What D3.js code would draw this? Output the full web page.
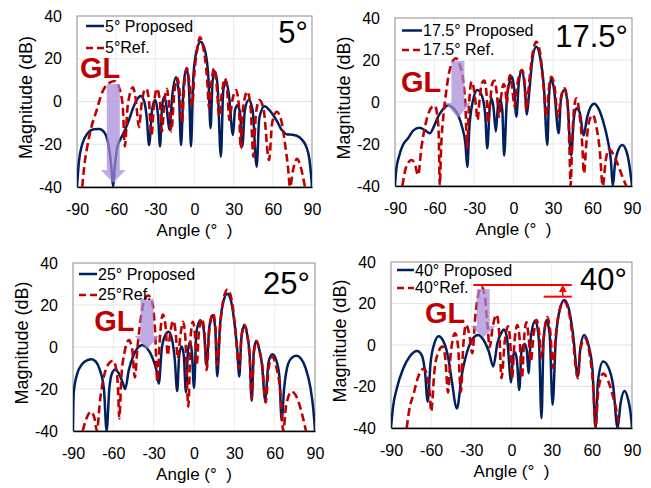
<!DOCTYPE html>
<html><head><meta charset="utf-8">
<script src="https://cdn.jsdelivr.net/npm/d3@7"></script>
<style>
html,body{margin:0;padding:0;background:#fff;}
svg{display:block;font-family:"Liberation Sans",Arial,sans-serif;}
</style></head><body>
<svg id="chart" width="651" height="488"></svg>
<script>
// ---- axis ticks and labels ----
const xTicks = [-90, -60, -30, 0, 30, 60, 90];
const yTicks = [-40, -20, 0, 20, 40];
const xGrid = [-60, -30, 0, 30, 60];
const yGrid = [-20, 0, 20];
const steerLabels = ["5°", "17.5°", "25°", "40°"];
const propLabels = ["5° Proposed", "17.5° Proposed", "25° Proposed", "40° Proposed"];
const refLabels = ["5°Ref.", "17.5° Ref.", "25°Ref.", "40°Ref."];
const xTitle = "Angle (°  )";
const yTitle = "Magnitude (dB)";
const glLabel = "GL";

// ---- radiation patterns: [angle (deg), magnitude (dB)] ----
const prop5 = [[-90,-40],[-88.5,-28],[-86,-20],[-82,-15],[-77,-13],[-73,-12.9],[-69,-14.5],[-66,-20],[-63.8,-30],[-62.3,-40],[-61,-30],[-59,-21],[-57,-18],[-54.5,-15],[-51,-10],[-47,-3],[-44,1],[-41.2,2.6],[-38.5,0],[-36.5,-8],[-34.8,-20.4],[-32.5,-4],[-30.2,0.7],[-28,-6],[-26.4,-21],[-24.8,-2],[-23.1,2.3],[-21.5,-2],[-19.3,-13.3],[-17,3],[-14.2,11.3],[-12,4],[-10.3,-20.4],[-8.3,8],[-6,15.5],[-4.2,6],[-2.7,-21],[-0.9,11.6],[1.7,24],[4.6,28],[8,24],[10.6,11.6],[12.3,-12.5],[13.8,9],[15.5,14.2],[17.6,8],[20.2,-25.8],[22,5],[24,10],[26.2,4],[29.5,-15.7],[31,-4],[33,-1.8],[35,-6],[36.6,-21],[38.6,-4],[41.5,0.7],[44.5,-4],[47.6,-30.5],[49.6,-8],[53.5,-2.2],[58,-4.5],[63,-9],[67,-13.5],[70.5,-15.3],[75,-15.6],[79,-16.2],[82.5,-18],[85.5,-21],[88,-27],[89.5,-36],[90,-40]];
const ref5 = [[-86,-40],[-84,-28],[-82.6,-22.7],[-79,-12],[-74.9,-4],[-71,3.8],[-67.3,7.7],[-61,9.6],[-57.5,6],[-55,-2],[-53.3,-21],[-51.5,-4],[-49.5,3.5],[-47.2,6.6],[-45,1],[-42.5,-12],[-40.5,-1],[-38.5,5],[-37,6],[-35,1],[-33,-16],[-31,-1],[-28.8,6],[-26.5,0],[-25,-14],[-23,0],[-21.2,6],[-19.5,-1],[-17.8,-14],[-15.6,3],[-13.2,11],[-11.3,4],[-9.6,-10],[-7.8,8],[-5.8,15.5],[-3.8,8],[-1.8,-2],[0,14],[2,24],[4.2,30],[6.8,25],[9.5,12],[11.2,-3],[13,9],[15,15.5],[16.9,8],[19,-7],[21,4],[23.4,10.8],[25.2,4],[26.7,-8.7],[28.8,0],[31.8,5.4],[34,-2],[35.4,-22],[37,-4],[40.5,4.6],[43,-3],[45.1,-25.8],[47,-6],[49.7,0.7],[53,-4],[57.1,-27.4],[59.5,-10],[63,-4.8],[66.5,-9],[69.3,-19.6],[71.5,-30],[73.2,-40],[75.5,-32],[78.5,-26.8],[81.5,-31],[84.6,-40]];

const prop17 = [[-90,-40],[-89,-32],[-87,-26],[-84,-20.5],[-80.1,-17.3],[-76,-13.5],[-71.5,-12.3],[-67,-13.5],[-63.6,-14.9],[-60,-11],[-57.3,-7],[-53,-3],[-49.6,-1.5],[-45.5,-3],[-42.1,-6.2],[-39,-12],[-36.5,-20],[-35.1,-31],[-33.5,-12],[-31,0],[-27.5,5.7],[-24,3],[-21.5,-6],[-19.9,-22],[-18.2,-4],[-16.8,1.8],[-15.3,-2],[-13.4,-14],[-11.8,-2],[-10.1,1.2],[-8.5,-4],[-7.1,-25.5],[-5,2],[-3,9.5],[-1.5,12.3],[0.2,8],[2.2,-7],[4,9],[6.2,15.2],[8.4,8],[10.2,-6],[12,5],[14.5,21],[17.3,26.3],[20.3,21],[23,8],[25.7,-20.5],[27,3],[28.7,11.3],[30.8,6],[34.3,-14.9],[36,1],[38.4,5.7],[40.8,1],[43.8,-25.5],[45.8,-8],[47.8,-3],[50.3,-5],[53.3,-16],[55.7,-8],[58.5,-2.5],[61.2,-0.8],[64.5,-3],[68,-9],[71.5,-18],[74,-28],[75.4,-40],[77,-30],[79.5,-23],[82.6,-20.5],[85.5,-23],[88,-30],[90,-40]];
const ref17 = [[-84.4,-40],[-82,-32],[-79.5,-28.5],[-77.2,-27.6],[-75,-29.5],[-72.4,-34.8],[-70,-22],[-67.2,-11.7],[-64,-4.5],[-61,-2],[-59.6,-1.9],[-58,-6],[-56.8,-15],[-56,-40],[-55,-22],[-53.3,-7],[-51.5,3],[-49.5,12],[-46.5,19],[-43.7,20.8],[-41,18],[-38.3,10.5],[-36.5,-2],[-35.2,-22],[-34,-4],[-31.8,9.7],[-29.8,5],[-28.5,-2],[-27.3,-8.6],[-25.8,1],[-24,9],[-22.2,10.2],[-20.5,4],[-19.3,-10],[-17.8,0],[-16,9],[-14.3,10.2],[-12.5,3],[-11,-7],[-9.5,2],[-7.5,8.5],[-6,5],[-5,-1],[-4,8],[-2.6,12.8],[-1.2,8],[0.9,-2.2],[2.8,8],[6.5,15.2],[8.5,9],[9.8,-3.8],[12,10],[14.5,23],[17.3,28.7],[20.3,23],[23,6],[24.9,-7],[26.8,6],[28.7,12],[31,8],[33.8,-7],[36.3,3],[38.9,6.5],[41,0],[42.4,-20],[43.4,-40],[44.5,-20],[46,-3],[47.7,1.8],[50,-5],[52.2,-20],[53.5,-34],[55.3,-20],[57.5,-9],[60.4,-6.2],[63,-12],[65.5,-22.9],[67.8,-40],[70,-28],[72.5,-22.4],[75,-24],[77.5,-27],[80,-31],[83,-36],[85.7,-40]];

const prop25 = [[-90,-40],[-89.5,-22],[-87,-13],[-83,-8],[-79,-6.2],[-76.3,-5.8],[-73,-7],[-70,-11],[-67,-20],[-65,-40],[-63,-20],[-61,-12.5],[-58.6,-10.7],[-56,-12.5],[-53,-17],[-51.2,-20],[-48.5,-11],[-45,-4],[-42,-0.5],[-38.6,1],[-35,-0.5],[-31,-5],[-28,-11],[-26.2,-17.5],[-24,-1],[-21.5,5.5],[-18.8,7.3],[-16.5,4],[-14.3,-6],[-12.5,-21],[-11,-4],[-9.2,0.2],[-7.6,-4],[-6,-21.5],[-4.5,-2],[-3,2.5],[-1.5,-3],[0,-19.5],[1.8,7],[4.7,12.7],[7.3,8],[9.4,-9],[11.3,9],[13.9,15.2],[15.8,9],[17.3,-14],[19.3,10],[22,22],[24.7,25.4],[27.5,22],[30,12],[32,0],[33.7,-14.1],[35.2,4],[37.3,10.2],[39.5,6],[41.5,-5],[42.9,-25.6],[44.5,-2],[46.3,2.7],[48.5,-1],[50.5,-8],[52.9,-25],[55.5,-7],[58.4,-3.5],[61,-6],[63.5,-14],[65.2,-35],[67,-20],[70,-8],[73,-5],[76.2,-4.2],[79.5,-5.5],[83,-10],[86.5,-19],[88.8,-30],[90,-40]];
const ref25 = [[-82.8,-40],[-80,-34],[-76.6,-30.8],[-74,-34],[-72.2,-40],[-70,-26],[-67,-14],[-63.5,-8],[-60.3,-6.5],[-58,-10],[-56.5,-20],[-55.6,-34],[-54,-14],[-51.5,-2],[-48.5,3.3],[-46,-1],[-44,-14.5],[-42,0],[-39.5,14],[-37,22],[-34,24.5],[-31,21],[-29,8],[-27.2,-16.5],[-25.5,3],[-23.2,15.5],[-21,9],[-19.6,-4],[-17.8,6],[-15.4,12.5],[-13.5,6],[-12.1,-5.4],[-10,6],[-8.2,12],[-6.5,5],[-4.2,-28.4],[-2.5,5],[-0.8,12],[0.8,5],[2,-8.6],[3.5,6],[5.7,13.5],[7.8,7],[9.4,-11],[11.5,9],[14.2,16],[16,9],[17.4,-8.6],[19.5,10],[22,23],[24.9,27.4],[27.8,23],[30.5,10],[33.7,-10.2],[35.3,5],[37.5,10.6],[39.8,5],[41.5,-6],[42.9,-24.4],[44.5,-3],[46.4,2.9],[48.8,-2],[51,-10],[53.3,-26.4],[55.5,-10],[58.2,-4.6],[61,-9],[64,-20],[66.4,-40],[68.5,-28],[72.6,-21.3],[76.5,-24],[80,-31],[83.3,-40]];

const prop40 = [[-90,-40],[-88.5,-30],[-85.7,-21],[-80.8,-11.2],[-76,-5.5],[-70.5,-2.9],[-67,-5],[-64.6,-13],[-62.6,-27.3],[-60.5,-9],[-57.5,1],[-54.5,4.2],[-51,2],[-47,-7],[-44.5,-17.7],[-40.8,-30.6],[-37,-14],[-32,-1],[-28,3.8],[-25,4.8],[-21,2.5],[-17,-3],[-13.6,-10.4],[-10.5,1],[-7.5,6],[-5.8,7.5],[-3.5,4],[-0.2,-18],[1,-6],[2.5,-3.5],[4,-7],[5.8,-21.7],[7.5,-3],[9.9,0.5],[11.5,-3],[12.7,-13.6],[14.5,4],[17.8,11.8],[20.5,2],[22.4,-35.3],[24,3],[26.2,12],[28.5,5],[30.7,-28.8],[33,2],[36,17],[39.4,21.7],[43,17],[46,5],[49.6,-15.2],[51.5,-1],[54.3,4.8],[57.5,0],[60.5,-12],[62.8,-40],[64.5,-18],[68.4,-8],[72.5,-11],[76,-20],[79.2,-40],[81.5,-28],[84.4,-22.2],[87,-26],[89,-33],[90,-40]];
const ref40 = [[-78.3,-40],[-76,-30],[-73.3,-24],[-69.5,-15],[-65.5,-11.4],[-63,-15],[-61,-24],[-60,-32],[-57.5,-12],[-55,-4],[-51.5,-0.8],[-49.5,-6],[-47.4,-22.9],[-45.5,-5],[-42.2,5.6],[-40,0],[-37.8,-22.5],[-36,0],[-34,9.8],[-31.5,5],[-29.3,-4],[-27,14],[-24.5,25],[-22.3,28],[-20,24],[-18,10],[-16.3,-1],[-14,9],[-11.1,14.5],[-9,4],[-7.5,-16],[-5,2],[-2.6,9],[-1,2],[0.4,-16],[2.3,2],[4.3,9.6],[6.2,2],[7.8,-16],[9.4,3],[11.1,11],[12.8,4],[14.4,-8],[16.5,5],[18.7,12],[20.8,5],[22.5,-6.4],[24.5,6],[26.8,13.5],[29,6],[31,-11],[33,4],[36,17],[39.2,21],[42.5,17],[45.5,5],[49.5,-16],[51.5,-2],[54.8,3.2],[58,-3],[61,-20],[62.8,-40],[64.8,-22],[68.5,-13.8],[72,-17],[75.5,-24],[78.5,-32],[80.8,-40]];

const proposedSeries = [prop5, prop17, prop25, prop40];
const referenceSeries = [ref5, ref17, ref25, ref40];

// grating-lobe arrows: [angle, top dB, head-base dB, tip dB]
const glArrows = [[-62.2, 8.2, -32, -38], [-42.2, 19.5, -0.5, -7.6], [-35, 23, 5.3, -1], [-21.1, 27, 9.2, 3.6]];
// "GL" text anchor: [angle, dB]
const glTextPos = [[-87.7, 11.2], [-85.4, 4.9], [-74.2, 7.6], [-64.6, 10.5]];
// level-difference marks on the 40° panel: [from angle, to angle, dB]
const levelLines40 = [[-28.5, 45, 28.9], [24, 45, 23.3]];
const levelArrow40 = [38.3, 23.3, 28.9];

// ---- layout ----
const panels = [
  {l:77,  r:312, t:16,  b:187, legX:9, legW:18, leg1:10,   leg2:32, tagR:4, tagB:27},
  {l:395, r:632, t:18,  b:186, legX:7, legW:20, leg1:12.5, leg2:32, tagR:4, tagB:29},
  {l:73,  r:315, t:263, b:431, legX:6, legW:18, leg1:11,   leg2:32, tagR:5, tagB:31},
  {l:391, r:632, t:262, b:428, legX:6, legW:17, leg1:8,    leg2:26, tagR:5, tagB:28}
];
const BLUE = "#002060", RED = "#c00000";

const svg = d3.select("#chart");

panels.forEach((p, i) => {
  const x = d3.scaleLinear().domain([-90, 90]).range([p.l, p.r]);
  const y = d3.scaleLinear().domain([-40, 40]).range([p.b, p.t]);
  const g = svg.append("g");

  // grid
  g.selectAll(".hg").data(yGrid).join("line")
    .attr("x1", p.l).attr("x2", p.r).attr("y1", d => y(d)).attr("y2", d => y(d))
    .attr("stroke", "#e4e4e4").attr("stroke-width", 1);
  g.selectAll(".vg").data(xGrid).join("line")
    .attr("y1", p.t).attr("y2", p.b).attr("x1", d => x(d)).attr("x2", d => x(d))
    .attr("stroke", "#ececec").attr("stroke-width", 1);

  // frame
  g.append("rect").attr("x", p.l).attr("y", p.t).attr("width", p.r - p.l).attr("height", p.b - p.t)
    .attr("fill", "none").attr("stroke", "#8c8c8c").attr("stroke-width", 1);

  // axes
  const xa = g.append("g").attr("transform", `translate(0,${p.b})`)
    .call(d3.axisBottom(x).tickValues(xTicks).tickSize(0).tickPadding(17).tickFormat(d => String(d)));
  xa.select(".domain").attr("stroke", "#000").attr("stroke-width", 1.5);
  xa.selectAll("text").attr("font-size", 16).attr("fill", "#000").attr("font-family", "Liberation Sans, Arial, sans-serif");
  const ya = g.append("g").attr("transform", `translate(${p.l},0)`)
    .call(d3.axisLeft(y).tickValues(yTicks).tickSize(0).tickPadding(15).tickFormat(d => String(d)));
  ya.select(".domain").remove();
  ya.selectAll("text").attr("font-size", 16).attr("fill", "#000").attr("font-family", "Liberation Sans, Arial, sans-serif");

  // axis titles
  g.append("text").attr("x", (p.l + p.r) / 2).attr("y", p.b + 49)
    .attr("text-anchor", "middle").attr("font-size", 17).style("white-space", "pre").text(xTitle);
  g.append("text").attr("transform", `translate(${p.l - 51},${(p.t + p.b) / 2 - 4}) rotate(-90)`)
    .attr("text-anchor", "middle").attr("dy", "0.35em").attr("font-size", 18).text(yTitle);

  // curves
  const clipId = "clip" + i;
  svg.append("clipPath").attr("id", clipId).append("rect")
    .attr("x", p.l).attr("y", p.t - 2).attr("width", p.r - p.l).attr("height", p.b - p.t + 2);
  const line = d3.line().x(d => x(d[0])).y(d => y(Math.max(-40, d[1]))).curve(d3.curveMonotoneX);
  const cg = g.append("g").attr("clip-path", `url(#${clipId})`);
  cg.append("path").datum(proposedSeries[i]).attr("d", line)
    .attr("fill", "none").attr("stroke", BLUE).attr("stroke-width", 2.5).attr("stroke-linejoin", "round");
  cg.append("path").datum(referenceSeries[i]).attr("d", line)
    .attr("fill", "none").attr("stroke", RED).attr("stroke-width", 2.6).attr("stroke-dasharray", "8,4");

  // grating-lobe arrow
  const [aAng, aTop, aBase, aTip] = glArrows[i];
  const cx = x(aAng), sw = 6.5, hw = 12.5;
  const arrow = d3.path();
  arrow.moveTo(cx - sw, y(aTop)); arrow.lineTo(cx + sw, y(aTop));
  arrow.lineTo(cx + sw, y(aBase)); arrow.lineTo(cx + hw, y(aBase));
  arrow.lineTo(cx, y(aTip)); arrow.lineTo(cx - hw, y(aBase));
  arrow.lineTo(cx - sw, y(aBase)); arrow.closePath();
  g.append("path").attr("d", arrow.toString()).attr("fill", "#a689d8").attr("fill-opacity", 0.72);

  // GL label
  g.append("text").attr("x", x(glTextPos[i][0])).attr("y", y(glTextPos[i][1]))
    .attr("font-size", 29).attr("font-weight", "bold").attr("fill", RED).text(glLabel);

  // legend
  const lx0 = p.l + p.legX, lx1 = lx0 + p.legW;
  g.append("line").attr("x1", lx0).attr("x2", lx1).attr("y1", p.t + p.leg1).attr("y2", p.t + p.leg1)
    .attr("stroke", BLUE).attr("stroke-width", 2.5);
  g.append("text").attr("x", lx1 + 1).attr("y", p.t + p.leg1 + 5.5).attr("font-size", 16).text(propLabels[i]);
  g.append("line").attr("x1", lx0).attr("x2", lx1).attr("y1", p.t + p.leg2).attr("y2", p.t + p.leg2)
    .attr("stroke", RED).attr("stroke-width", 2.5).attr("stroke-dasharray", "7,4");
  g.append("text").attr("x", lx1 + 1).attr("y", p.t + p.leg2 + 5).attr("font-size", 16).text(refLabels[i]);

  // steering-angle tag
  g.append("text").attr("x", p.r - p.tagR).attr("y", p.t + p.tagB).attr("text-anchor", "end")
    .attr("font-size", 31).text(steerLabels[i]);

  // level-difference marks
  if (i === 3) {
    g.selectAll(".lvl").data(levelLines40).join("line")
      .attr("x1", d => x(d[0])).attr("x2", d => x(d[1])).attr("y1", d => y(d[2])).attr("y2", d => y(d[2]))
      .attr("stroke", "#ff0000").attr("stroke-width", 2);
    const [ax, aFrom, aTo] = levelArrow40;
    const headBase = y(aTo) + 7;
    g.append("line").attr("x1", x(ax)).attr("x2", x(ax)).attr("y1", y(aFrom)).attr("y2", headBase)
      .attr("stroke", "#ff0000").attr("stroke-width", 1.5);
    const tri = d3.path();
    tri.moveTo(x(ax), y(aTo)); tri.lineTo(x(ax) + 4, headBase); tri.lineTo(x(ax) - 4, headBase); tri.closePath();
    g.append("path").attr("d", tri.toString()).attr("fill", "#ff0000");
  }
});
</script>
</body></html>
